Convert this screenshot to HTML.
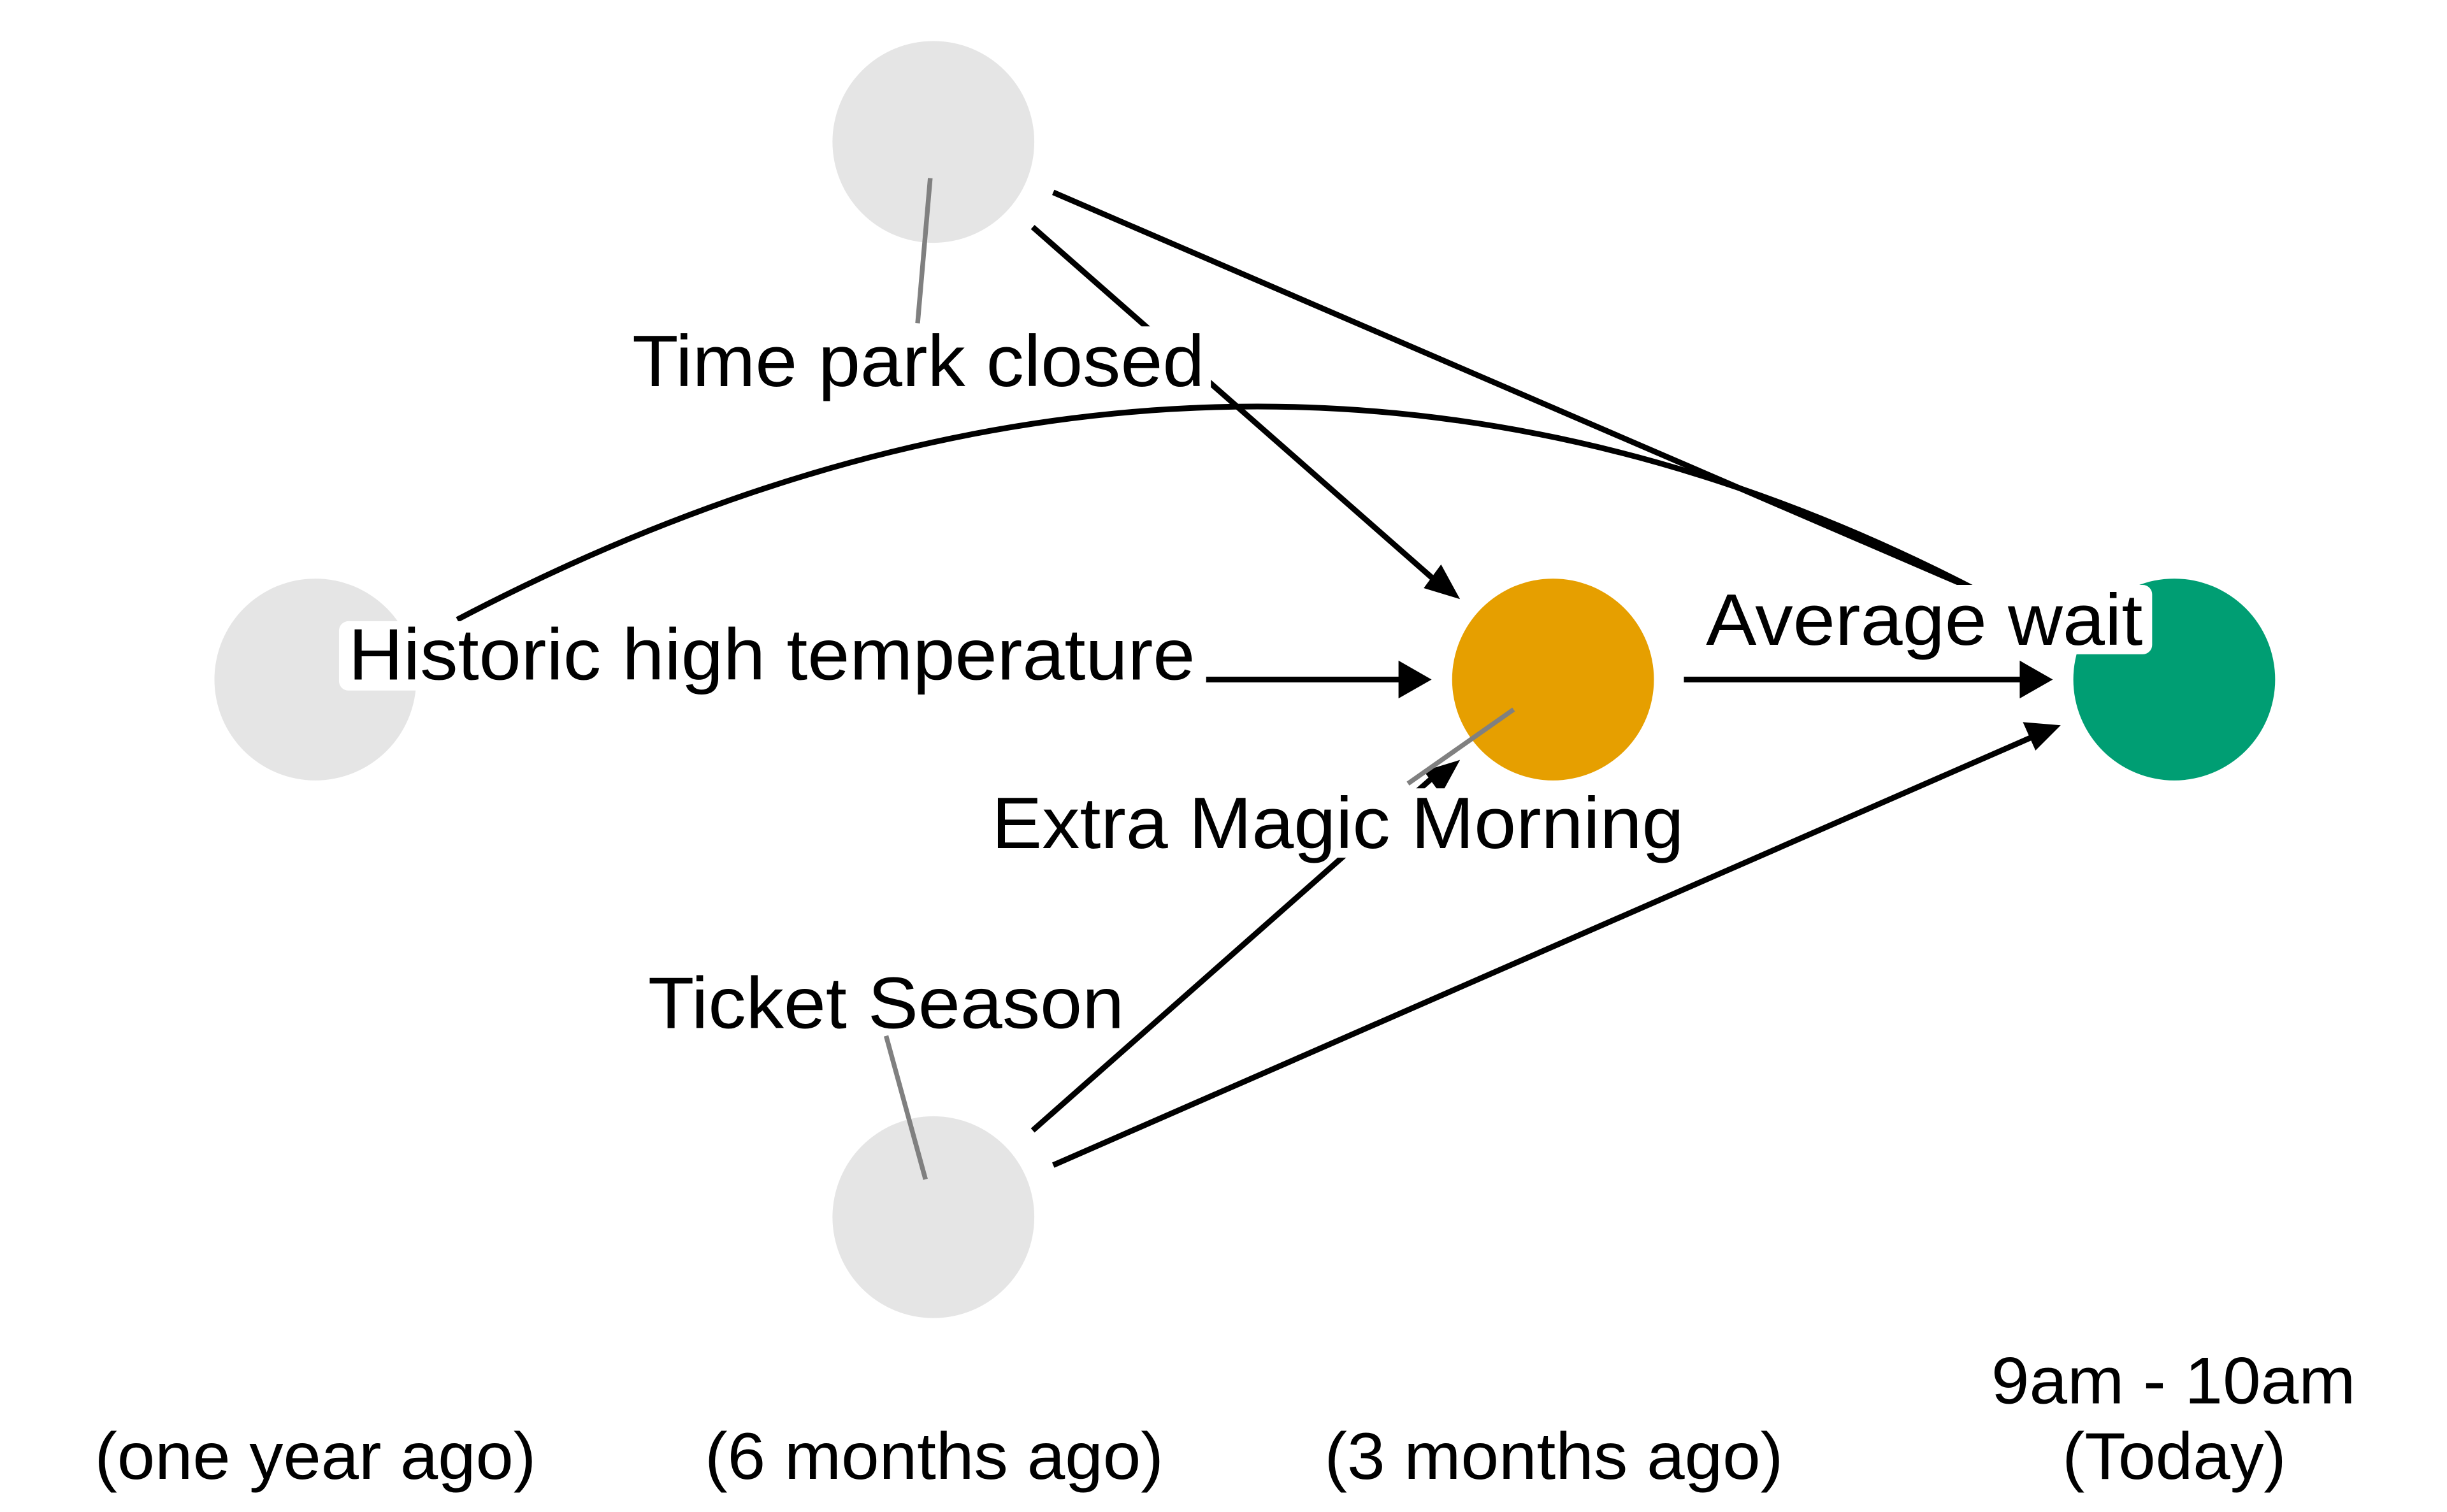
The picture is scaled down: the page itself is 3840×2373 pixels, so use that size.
<!DOCTYPE html>
<html><head><meta charset="utf-8"><style>html,body{margin:0;padding:0;background:#fff}svg{display:block}</style></head>
<body>
<svg width="3840" height="2373" viewBox="0 0 1552 959" preserveAspectRatio="none" xmlns="http://www.w3.org/2000/svg" font-family="Liberation Sans, Arial, sans-serif">
<rect width="1552" height="959" fill="#fff"/>
<g stroke="#000" stroke-width="3.6" fill="none">
<line x1="655" y1="144" x2="910" y2="368"/>
<line x1="668" y1="122" x2="1255" y2="375"/>
<path d="M290,393 Q788,132 1255,375"/>
<line x1="763" y1="431" x2="893" y2="431"/>
<line x1="1068" y1="431" x2="1287" y2="431"/>
<line x1="655" y1="717" x2="910" y2="492"/>
<line x1="668" y1="739" x2="1290" y2="467"/>
</g>
<g fill="#000">
<polygon points="926,380 903,373 914,358"/>
<polygon points="908,431 887,419 887,443"/>
<polygon points="1302,431 1281,419 1281,443"/>
<polygon points="926,482 903,489 914,504"/>
<polygon points="1307,460 1283,458 1291,476"/>
</g>
<circle cx="592" cy="90" r="64" fill="#e5e5e5"/>
<circle cx="200" cy="431" r="64" fill="#e5e5e5"/>
<circle cx="985" cy="431" r="64" fill="#E69F00"/>
<circle cx="1379" cy="431" r="64" fill="#009E73"/>
<circle cx="592" cy="772" r="64" fill="#e5e5e5"/>
<g stroke="#808080" stroke-width="3">
<line x1="590" y1="113" x2="582" y2="205"/>
<line x1="960" y1="450" x2="893" y2="497"/>
<line x1="562" y1="657" x2="587" y2="748"/>
</g>
<g fill="#fff">
<rect x="215" y="394" width="550" height="44" rx="6"/>
<rect x="396" y="207" width="372" height="44" rx="6"/>
<rect x="1077" y="371" width="288" height="44" rx="6"/>
<rect x="624" y="500" width="448" height="44" rx="6"/>
</g>
<g font-size="46" fill="#000">
<text x="221" y="431" textLength="537" lengthAdjust="spacingAndGlyphs">Historic high temperature</text>
<text x="401" y="245" textLength="363" lengthAdjust="spacingAndGlyphs">Time park closed</text>
<text x="1082" y="409" textLength="277" lengthAdjust="spacingAndGlyphs">Average wait</text>
<text x="629" y="538" textLength="439" lengthAdjust="spacingAndGlyphs">Extra Magic Morning</text>
<text x="411" y="652" textLength="302" lengthAdjust="spacingAndGlyphs">Ticket Season</text>
</g>
<g font-size="42" fill="#000">
<text x="60" y="938" textLength="280" lengthAdjust="spacingAndGlyphs">(one year ago)</text>
<text x="447" y="938" textLength="291" lengthAdjust="spacingAndGlyphs">(6 months ago)</text>
<text x="840" y="938" textLength="291" lengthAdjust="spacingAndGlyphs">(3 months ago)</text>
<text x="1263" y="890" textLength="231" lengthAdjust="spacingAndGlyphs">9am - 10am</text>
<text x="1308" y="938" textLength="142" lengthAdjust="spacingAndGlyphs">(Today)</text>
</g>
</svg>
</body></html>
